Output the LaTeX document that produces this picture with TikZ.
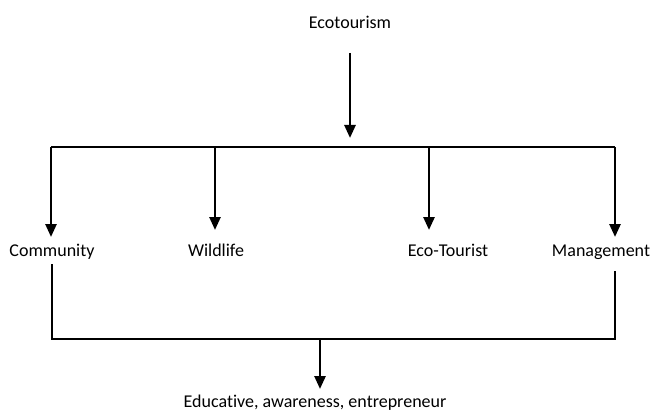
\documentclass[tikz,border=0pt]{standalone}
\usepackage{fontspec}
\setmainfont{Carlito}[Ligatures={NoCommon}]
\usetikzlibrary{arrows.meta}
\begin{document}
\begin{tikzpicture}[x=1pt,y=-1pt,
  lbl/.style={inner sep=0pt, anchor=base, font=\fontsize{18}{21}\selectfont},
  arr/.style={line width=2.6pt, -{Triangle[length=13pt,width=11pt]}},
  thin/.style={line width=1.3pt},
  bar/.style={line width=1.6pt}]
\useasboundingbox (0,0) rectangle (660,414);
% labels
\node[lbl] (eco) at (350,29) {Ecotourism};
\node[lbl] (com) at (52,256) {Community};
\node[lbl] (wild) at (216,256) {Wildlife};
\node[lbl] (tour) at (448,256) {Eco-Tourist};
\node[lbl] (man) at (601,256) {Management};
\node[lbl] (edu) at (315,407) {Educative, awareness, entrepreneur};
% coordinates
\coordinate (t0) at (350,53);
\coordinate (t1) at (350,138);
\coordinate (bL) at (51,147);
\coordinate (bW) at (215,147);
\coordinate (bT) at (429,147);
\coordinate (bR) at (615,147);
\coordinate (eL) at (51,237);
\coordinate (eW) at (215,230);
\coordinate (eT) at (429,230);
\coordinate (eR) at (615,237);
\coordinate (cL) at (52,264);
\coordinate (cR) at (615,271);
\coordinate (dL) at (52,339);
\coordinate (dR) at (615,339);
\coordinate (dM) at (320,339);
\coordinate (dE) at (320,389);
% top arrow and bar
\draw[arr] (t0) -- (t1);
\draw[bar] (bL) -- (bR);
\draw[arr] (bL) -- (eL);
\draw[arr] (bW) -- (eW);
\draw[arr] (bT) -- (eT);
\draw[arr] (bR) -- (eR);
% bottom bracket
\draw[thin] (cL) -- (dL) -- (dR) -- (cR);
\draw[arr] (dM) -- (dE);
\end{tikzpicture}
\end{document}
